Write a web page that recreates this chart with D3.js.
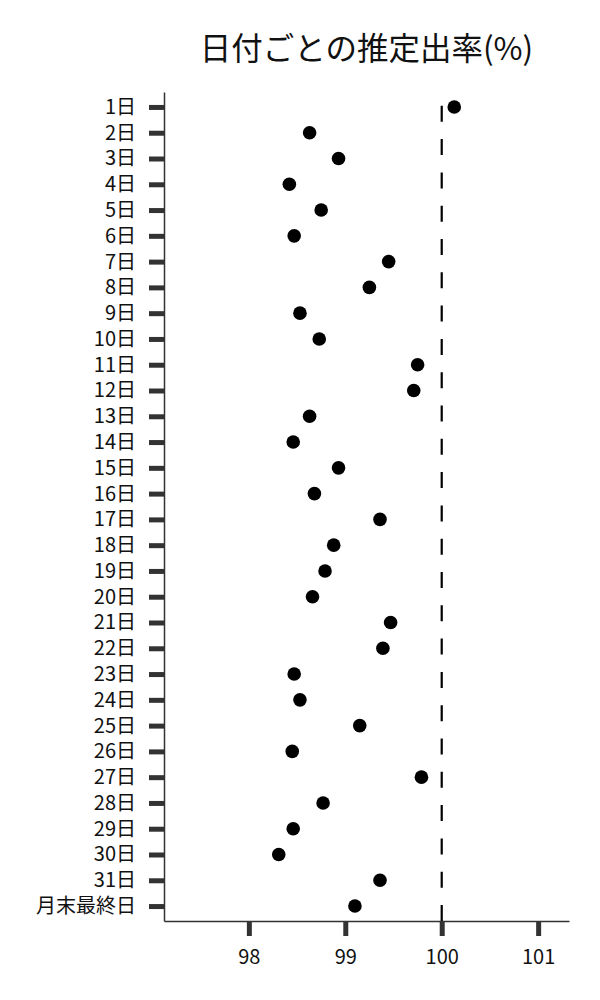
<!DOCTYPE html>
<html>
<head>
<meta charset="utf-8">
<script src="https://cdn.jsdelivr.net/npm/d3@7"></script>
<style>
  body { margin: 0; background: #fff; }
  text { font-family: "Noto Sans CJK JP", "Noto Sans", sans-serif; }
</style>
</head>
<body>
<svg id="chart"></svg>
<script>
// カテゴリ（日付）
var days = ["1日","2日","3日","4日","5日","6日","7日","8日","9日","10日",
  "11日","12日","13日","14日","15日","16日","17日","18日","19日","20日",
  "21日","22日","23日","24日","25日","26日","27日","28日","29日","30日",
  "31日","月末最終日"];

// 推定出率(%)
var rates = [100.13, 98.63, 98.93, 98.42, 98.75, 98.47, 99.45, 99.25, 98.53, 98.73,
  99.75, 99.71, 98.63, 98.46, 98.93, 98.68, 99.36, 98.88, 98.79, 98.66,
  99.47, 99.39, 98.47, 98.53, 99.15, 98.45, 99.79, 98.77, 98.46, 98.31,
  99.36, 99.10];

var xTicks = [98, 99, 100, 101];
var refValue = 100;

var width = 600, height = 1000;
var margin = {top: 92, right: 31, bottom: 79, left: 164};

var svg = d3.select("#chart")
  .attr("width", width)
  .attr("height", height);

var x = d3.scaleLinear()
  .domain([97.12, 101.32])
  .range([margin.left, width - margin.right]);

var y = d3.scalePoint()
  .domain(days)
  .range([margin.top, height - margin.bottom])
  .padding(0.58);

// タイトル
svg.append("text")
  .attr("x", (margin.left + width - margin.right) / 2)
  .attr("y", 60)
  .attr("text-anchor", "middle")
  .attr("font-size", 31.5)
  .attr("fill", "#111")
  .text("日付ごとの推定出率(%)");

// y軸
var yAxis = svg.append("g")
  .attr("transform", "translate(" + margin.left + ",0)")
  .call(d3.axisLeft(y).tickSizeInner(15).tickSizeOuter(0).tickPadding(13));

// x軸
var xAxis = svg.append("g")
  .attr("transform", "translate(0," + (height - margin.bottom) + ")")
  .call(d3.axisBottom(x).tickValues(xTicks).tickFormat(d3.format("d"))
    .tickSizeInner(15).tickSizeOuter(0).tickPadding(14));

[yAxis, xAxis].forEach(function(a) {
  a.select(".domain").attr("stroke", "#333").attr("stroke-width", 1.5);
  a.selectAll(".tick line").attr("stroke", "#333").attr("stroke-width", 5);
  a.selectAll(".tick text")
    .attr("font-size", 20)
    .attr("fill", "#111")
    .style("font-family", "'Noto Sans CJK JP', 'Noto Sans', sans-serif");
});

// 100% の基準線（下から破線）
svg.append("line")
  .attr("x1", x(refValue))
  .attr("x2", x(refValue))
  .attr("y1", height - margin.bottom)
  .attr("y2", margin.top)
  .attr("stroke", "#000")
  .attr("stroke-width", 2.2)
  .attr("stroke-dasharray", "16,17.3");

// 点
svg.selectAll(".dot")
  .data(rates)
  .enter().append("circle")
  .attr("class", "dot")
  .attr("cx", function(d) { return x(d); })
  .attr("cy", function(d, i) { return y(days[i]); })
  .attr("r", 6.8)
  .attr("fill", "#000");
</script>
</body>
</html>
